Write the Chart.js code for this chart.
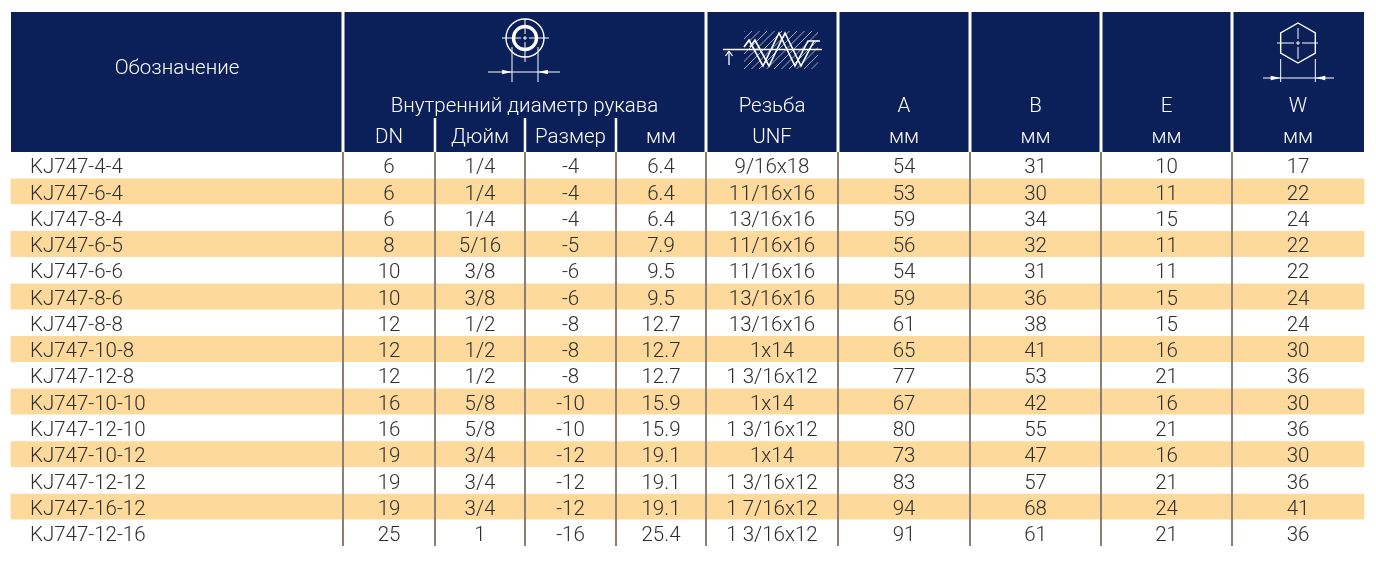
<!DOCTYPE html>
<html><head><meta charset="utf-8">
<script src="https://cdn.jsdelivr.net/npm/chart.js@4.4.1/dist/chart.umd.min.js"></script>
<style>html,body{margin:0;padding:0;background:#fff;}#wrap{width:1376px;height:567px;position:relative;}</style>
</head><body><div id="wrap"><canvas id="c"></canvas></div>
<script>
// ---------- DATA ----------
const designations = ['KJ747-4-4','KJ747-6-4','KJ747-8-4','KJ747-6-5','KJ747-6-6','KJ747-8-6','KJ747-8-8','KJ747-10-8','KJ747-12-8','KJ747-10-10','KJ747-12-10','KJ747-10-12','KJ747-12-12','KJ747-16-12','KJ747-12-16'];
const dn = [6,6,6,8,10,10,12,12,12,16,16,19,19,19,25];
const inch = ['1/4','1/4','1/4','5/16','3/8','3/8','1/2','1/2','1/2','5/8','5/8','3/4','3/4','3/4','1'];
const sizeDash = ['-4','-4','-4','-5','-6','-6','-8','-8','-8','-10','-10','-12','-12','-12','-16'];
const boreMm = ['6.4','6.4','6.4','7.9','9.5','9.5','12.7','12.7','12.7','15.9','15.9','19.1','19.1','19.1','25.4'];
const thread = ['9/16x18','11/16x16','13/16x16','11/16x16','11/16x16','13/16x16','13/16x16','1x14','1 3/16x12','1x14','1 3/16x12','1x14','1 3/16x12','1 7/16x12','1 3/16x12'];
const dimA = [54,53,59,56,54,59,61,65,77,67,80,73,83,94,91];
const dimB = [31,30,34,32,31,36,38,41,53,42,55,47,57,68,61];
const dimE = [10,11,15,11,11,15,15,16,21,16,21,16,21,24,21];
const dimW = [17,22,24,22,22,24,24,30,36,30,36,30,36,41,36];

const headDesignation = 'Обозначение';
const headDiameter = 'Внутренний диаметр рукава';
const subDiameter = ['DN','Дюйм','Размер','мм'];
const headThread = ['Резьба','UNF'];
const headDims = ['A','B','E','W'];
const unitDims = 'мм';

// ---------- LAYOUT / STYLE ----------
const NAVY = '#0b1f59', STRIPE = '#fdd99b', RULE = '#8a7f74', TEXT = '#2e2e2e';
const FONT = "Roboto, 'Liberation Sans', Arial, sans-serif", FS = 20.5, FW = 300;
const CANVAS_H = 567;
const COL_EDGES = [11,343,435,525,616,706,838,970,1101,1232,1364];
const HEADER_TOP = 12, BODY_TOP = 152, ROW_PX = 26.27, TEXT_LEFT = 30, BASE_FRAC = 0.81;
const toRow = px => (px - BODY_TOP) / ROW_PX;

function seg(ctx, x1, y1, x2, y2){ ctx.beginPath(); ctx.moveTo(x1,y1); ctx.lineTo(x2,y2); ctx.stroke(); }
function head(ctx, tx, ty, dx, dy, len, half){
  const px = -dy, py = dx;
  ctx.beginPath(); ctx.moveTo(tx,ty);
  ctx.lineTo(tx - dx*len + px*half, ty - dy*len + py*half);
  ctx.lineTo(tx - dx*len - px*half, ty - dy*len - py*half);
  ctx.closePath(); ctx.fill();
}

const tablePlugin = {
  id: 'table',
  beforeDatasetsDraw(chart){
    const {ctx, scales:{x, y}} = chart;
    const X = v => x.getPixelForValue(v), Y = v => y.getPixelForValue(v);
    ctx.save();
    ctx.fillStyle = NAVY;
    const top = Y(toRow(HEADER_TOP)), bot = Y(0);
    ctx.fillRect(X(COL_EDGES[0]), top, X(COL_EDGES[10]) - X(COL_EDGES[0]), bot - top);
    ctx.strokeStyle = '#ffffff';
    ctx.lineWidth = 3;
    [1,5,6,7,8,9].forEach(k => seg(ctx, X(COL_EDGES[k]), top, X(COL_EDGES[k]), bot));
    ctx.lineWidth = 2.5;
    [2,3,4].forEach(k => seg(ctx, X(COL_EDGES[k]), Y(toRow(118)), X(COL_EDGES[k]), bot));
    ctx.restore();
  },
  afterDatasetsDraw(chart){
    const {ctx, scales:{x, y}} = chart;
    const X = v => x.getPixelForValue(v), Y = v => y.getPixelForValue(v);
    const mid = k => X((COL_EDGES[k] + COL_EDGES[k+1]) / 2);
    ctx.save();
    // body rules
    ctx.strokeStyle = RULE; ctx.lineWidth = 2;
    for (let k = 1; k <= 9; k++) seg(ctx, X(COL_EDGES[k]), Y(0), X(COL_EDGES[k]), Y(designations.length));
    // body text
    ctx.font = `${FW} ${FS}px ${FONT}`; ctx.fillStyle = TEXT; ctx.textBaseline = 'alphabetic';
    designations.forEach((d, i) => {
      const by = Y(i + BASE_FRAC);
      ctx.textAlign = 'left'; ctx.fillText(d, X(TEXT_LEFT), by);
      ctx.textAlign = 'center';
      [dn[i], inch[i], sizeDash[i], boreMm[i], thread[i], dimA[i], dimB[i], dimE[i], dimW[i]]
        .forEach((v, k) => ctx.fillText(String(v), mid(k+1), by));
    });
    // header text
    ctx.fillStyle = '#ffffff'; ctx.textAlign = 'center';
    const b1 = Y(toRow(112)), b2 = Y(toRow(143));
    ctx.fillText(headDesignation, mid(0), Y(toRow(74)));
    ctx.fillText(headDiameter, X((COL_EDGES[1] + COL_EDGES[5]) / 2), b1);
    subDiameter.forEach((t, k) => ctx.fillText(t, mid(k+1), b2));
    ctx.fillText(headThread[0], mid(5), b1);
    ctx.fillText(headThread[1], mid(5), b2);
    headDims.forEach((t, k) => { ctx.fillText(t, mid(k+6), b1); ctx.fillText(unitDims, mid(k+6), b2); });

    // ---- icons ----
    ctx.strokeStyle = '#ffffff'; ctx.fillStyle = '#ffffff';
    const P = (px, py) => [X(px), Y(toRow(py))];
    // circle icon
    {
      const [cx, cy] = P(525, 38);
      ctx.lineWidth = 1.4;
      ctx.beginPath(); ctx.arc(cx, cy, 19, 0, Math.PI*2); ctx.stroke();
      ctx.lineWidth = 3.4;
      ctx.beginPath(); ctx.arc(cx, cy, 11.5, 0, Math.PI*2); ctx.stroke();
      ctx.lineWidth = 1;
      seg(ctx, cx-23, cy, cx-4, cy); seg(ctx, cx+4, cy, cx+24, cy);
      seg(ctx, cx, cy-19, cx, cy-4); seg(ctx, cx, cy+4, cx, cy+24);
      seg(ctx, cx-2, cy, cx+2, cy); seg(ctx, cx, cy-2, cx, cy+2);
      const [lx] = P(512, 0), [rx] = P(538, 0);
      const [, t1] = P(0, 47), [, t2] = P(0, 82), [, hy] = P(0, 72);
      seg(ctx, lx, t1, lx, t2); seg(ctx, rx, t1, rx, t2);
      const [ax1] = P(488, 0), [ax2] = P(560, 0);
      seg(ctx, ax1, hy, ax2, hy);
      head(ctx, lx, hy, 1, 0, 10, 2.2); head(ctx, rx, hy, -1, 0, 10, 2.2);
    }
    // thread icon
    {
      const [bx0, by0] = P(744, 31), [bx1, by1] = P(818, 69);
      ctx.save();
      ctx.beginPath(); ctx.rect(bx0, by0, bx1-bx0, by1-by0); ctx.clip();
      ctx.strokeStyle = 'rgba(255,255,255,0.7)'; ctx.lineWidth = 0.9;
      for (let k = -45; k < 80; k += 7.5) seg(ctx, bx0 + k, by1, bx0 + k + (by1-by0), by0);
      ctx.restore();
      ctx.lineWidth = 1.6;
      const [hx0, hy0] = P(723, 49.5), [hx1] = P(822, 0);
      seg(ctx, hx0, hy0, hx1, hy0);
      const zig = [[744,47],[749,40],[763,66],[779,33],[795,66],[808,41],[814,41]];
      [0, 6].forEach(off => {
        ctx.beginPath();
        zig.forEach(([zx, zy], j) => { const [qx, qy] = P(zx + off, zy); j ? ctx.lineTo(qx, qy) : ctx.moveTo(qx, qy); });
        ctx.stroke();
      });
      const [vx, vy0] = P(729, 51), [, vy1] = P(0, 65);
      ctx.lineWidth = 1.3;
      seg(ctx, vx, vy0, vx, vy1);
      seg(ctx, vx, vy0, vx-3.5, vy0+5); seg(ctx, vx, vy0, vx+3.5, vy0+5);
    }
    // hex icon
    {
      const [cx, cy] = P(1298, 43);
      const r = 20;
      ctx.lineWidth = 1.4;
      ctx.beginPath();
      for (let j = 0; j < 6; j++) {
        const a = -Math.PI/2 + j*Math.PI/3;
        const qx = cx + r*Math.cos(a), qy = cy + r*Math.sin(a);
        j ? ctx.lineTo(qx, qy) : ctx.moveTo(qx, qy);
      }
      ctx.closePath(); ctx.stroke();
      ctx.lineWidth = 1;
      seg(ctx, cx-21, cy, cx-4, cy); seg(ctx, cx+4, cy, cx+20, cy);
      seg(ctx, cx, cy-15, cx, cy-4); seg(ctx, cx, cy+4, cx, cy+16);
      seg(ctx, cx-2, cy, cx+2, cy); seg(ctx, cx, cy-2, cx, cy+2);
      const lx = cx - r*Math.cos(Math.PI/6), rx = cx + r*Math.cos(Math.PI/6);
      const [, t1] = P(0, 59), [, t2] = P(0, 82), [, hy] = P(0, 78);
      seg(ctx, lx, t1, lx, t2); seg(ctx, rx, t1, rx, t2);
      const [ax1] = P(1263, 0), [ax2] = P(1334, 0);
      seg(ctx, ax1, hy, ax2, hy);
      head(ctx, lx, hy, 1, 0, 10, 2.2); head(ctx, rx, hy, -1, 0, 10, 2.2);
    }
    ctx.restore();
  }
};

// stripes as floating horizontal bars (every second row)
const stripeData = designations.map((d, i) => i % 2 === 1 ? {y: i + 0.5, x: [COL_EDGES[0], COL_EDGES[COL_EDGES.length-1]]} : null).filter(Boolean);

function build(){
  new Chart(document.getElementById('c'), {
    type: 'bar',
    data: { datasets: [{ data: stripeData, backgroundColor: STRIPE, borderWidth: 0, barThickness: ROW_PX - 1, grouped: false }] },
    options: {
      indexAxis: 'y', responsive: true, maintainAspectRatio: false, animation: false,
      events: [], layout: { padding: 0 },
      plugins: { legend: { display: false }, tooltip: { enabled: false }, title: { display: false } },
      scales: {
        x: { type: 'linear', min: 0, max: 1376, display: false, offset: false, bounds: 'data' },
        y: { type: 'linear', min: toRow(0), max: toRow(CANVAS_H), reverse: true, display: false, offset: false, bounds: 'data' }
      }
    },
    plugins: [tablePlugin]
  });
}
if (document.fonts && document.fonts.load) {
  document.fonts.load(`${FW} ${FS}px Roboto`).then(build, build);
} else build();
</script></body></html>
